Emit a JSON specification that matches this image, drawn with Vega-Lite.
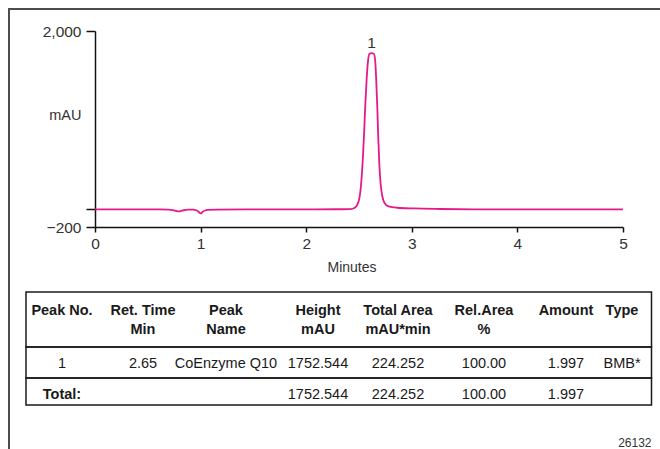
{
  "$schema": "https://vega.github.io/schema/vega-lite/v6.json",
  "width": 660,
  "height": 450,
  "autosize": {"type": "none"},
  "padding": {"left": 9, "top": 9, "right": 0, "bottom": 0},
  "background": "white",
  "config": {
    "view": {"stroke": "#4d4d4d", "strokeWidth": 2},
    "font": "Liberation Sans, Arial, sans-serif"
  },
  "datasets": {
    "trace": [
      {"t": 0.0, "v": -3}, {"t": 0.3, "v": -3}, {"t": 0.6, "v": -3}, {"t": 0.7, "v": -4},
      {"t": 0.74, "v": -10}, {"t": 0.77, "v": -20}, {"t": 0.79, "v": -25}, {"t": 0.81, "v": -22},
      {"t": 0.84, "v": -12}, {"t": 0.88, "v": -6}, {"t": 0.93, "v": -6}, {"t": 0.96, "v": -12},
      {"t": 0.98, "v": -28}, {"t": 1.0, "v": -48}, {"t": 1.02, "v": -30}, {"t": 1.04, "v": -15},
      {"t": 1.07, "v": -7}, {"t": 1.15, "v": -4}, {"t": 1.5, "v": -3}, {"t": 2.0, "v": -2},
      {"t": 2.3, "v": -1}, {"t": 2.42, "v": 0}, {"t": 2.46, "v": 15}, {"t": 2.496, "v": 87},
      {"t": 2.518, "v": 255}, {"t": 2.534, "v": 518}, {"t": 2.547, "v": 817}, {"t": 2.559, "v": 1153},
      {"t": 2.572, "v": 1453}, {"t": 2.585, "v": 1658}, {"t": 2.597, "v": 1741}, {"t": 2.619, "v": 1752},
      {"t": 2.642, "v": 1741}, {"t": 2.654, "v": 1658}, {"t": 2.663, "v": 1453}, {"t": 2.673, "v": 1153},
      {"t": 2.682, "v": 817}, {"t": 2.692, "v": 518}, {"t": 2.704, "v": 294}, {"t": 2.72, "v": 151},
      {"t": 2.742, "v": 69}, {"t": 2.78, "v": 31}, {"t": 2.86, "v": 16}, {"t": 3.02, "v": 8},
      {"t": 3.27, "v": 2}, {"t": 3.6, "v": -2}, {"t": 4.0, "v": -3}, {"t": 5.0, "v": -3}
    ],
    "peaks": [{"t": 2.619, "v": 1752, "label": "1"}],
    "rows": [
      {"r0": 0, "r1": 2, "c0": 0, "c1": 9},
      {"r0": 2, "r1": 4, "c0": 0, "c1": 9},
      {"r0": 4, "r1": 6, "c0": 0, "c1": 9}
    ],
    "cells": [
      {"col": 1, "row": 1, "kind": "head", "text": "Peak No."},
      {"col": 2, "row": 1, "kind": "head", "text": "Ret. Time\nMin"},
      {"col": 3, "row": 1, "kind": "head", "text": "Peak\nName"},
      {"col": 4, "row": 1, "kind": "head", "text": "Height\nmAU"},
      {"col": 5, "row": 1, "kind": "head", "text": "Total Area\nmAU*min"},
      {"col": 6, "row": 1, "kind": "head", "text": "Rel.Area\n%"},
      {"col": 7, "row": 1, "kind": "head", "text": "Amount"},
      {"col": 8, "row": 1, "kind": "head", "text": "Type"},
      {"col": 1, "row": 3, "kind": "body", "text": "1"},
      {"col": 2, "row": 3, "kind": "body", "text": "2.65"},
      {"col": 3, "row": 3, "kind": "body", "text": "CoEnzyme Q10"},
      {"col": 4, "row": 3, "kind": "body", "text": "1752.544"},
      {"col": 5, "row": 3, "kind": "body", "text": "224.252"},
      {"col": 6, "row": 3, "kind": "body", "text": "100.00"},
      {"col": 7, "row": 3, "kind": "body", "text": "1.997"},
      {"col": 8, "row": 3, "kind": "body", "text": "BMB*"},
      {"col": 1, "row": 5, "kind": "total", "text": "Total:"},
      {"col": 4, "row": 5, "kind": "body", "text": "1752.544"},
      {"col": 5, "row": 5, "kind": "body", "text": "224.252"},
      {"col": 6, "row": 5, "kind": "body", "text": "100.00"},
      {"col": 7, "row": 5, "kind": "body", "text": "1.997"},
      {"col": 9, "row": 7, "kind": "note", "text": "26132"}
    ]
  },
  "layer": [
    {
      "layer": [
        {
          "data": {"name": "trace"},
          "mark": {"type": "line", "color": "#e6198c", "strokeWidth": 1.8, "interpolate": "monotone", "clip": false},
          "encoding": {
            "x": {
              "field": "t", "type": "quantitative",
              "scale": {"domain": [0, 5], "range": [86, 614], "nice": false, "zero": false},
              "axis": {
                "values": [0, 1, 2, 3, 4, 5], "format": "d", "offset": -232, "grid": false, "labelFlush": false,
                "tickSize": 5, "tickWidth": 1.5, "tickColor": "#111",
                "domainColor": "#111", "domainWidth": 1.5,
                "labelFontSize": 15.5, "labelColor": "#333", "labelPadding": 4,
                "title": "Minutes", "titleFontSize": 14, "titleFontWeight": "normal", "titleColor": "#333",
                "titleX": 342.5, "titleY": 40, "titleAlign": "center", "titleBaseline": "middle"
              }
            },
            "y": {
              "field": "v", "type": "quantitative",
              "scale": {"domain": [-200, 2000], "range": [218, 22], "nice": false, "zero": false},
              "axis": {
                "values": [-200, 0, 2000], "format": ",.0f", "labelExpr": "datum.value === 0 ? '' : datum.label",
                "offset": -86, "grid": false, "labelFlush": false,
                "tickSize": 9, "tickWidth": 1.5, "tickColor": "#111",
                "domainColor": "#111", "domainWidth": 1.5,
                "labelFontSize": 15.5, "labelColor": "#333", "labelPadding": 5,
                "title": "mAU", "titleFontSize": 14.5, "titleFontWeight": "normal", "titleColor": "#333",
                "titleAngle": 0, "titleAlign": "right", "titleBaseline": "middle",
                "titleX": -14, "titleY": 106
              }
            }
          }
        },
        {
          "data": {"name": "peaks"},
          "mark": {"type": "text", "baseline": "bottom", "dy": -2, "fontSize": 15.5, "color": "#333", "clip": false},
          "encoding": {
            "x": {"field": "t", "type": "quantitative"},
            "y": {"field": "v", "type": "quantitative"},
            "text": {"field": "label"}
          }
        }
      ]
    },
    {
      "layer": [
        {
          "data": {"name": "rows"},
          "mark": {"type": "rect", "fill": null, "fillOpacity": 0, "stroke": "#1a1a1a", "strokeWidth": 1.5, "clip": false},
          "encoding": {
            "x": {"field": "c0", "type": "quantitative",
              "scale": {"domain": [0, 1, 2, 3, 4, 5, 6, 7, 8, 9], "range": [17, 53, 134, 217, 309, 389, 475, 557, 613, 642.5], "nice": false, "zero": false},
              "axis": null},
            "x2": {"field": "c1"},
            "y": {"field": "r0", "type": "quantitative",
              "scale": {"domain": [0, 1, 2, 3, 4, 5, 6, 7], "range": [283, 294.5, 338, 354.5, 369, 386, 396, 433.5], "nice": false, "zero": false},
              "axis": null},
            "y2": {"field": "r1"}
          }
        },
        {
          "data": {"name": "cells"},
          "transform": [{"filter": "datum.kind === 'head'"}],
          "mark": {"type": "text", "fontWeight": "bold", "fontSize": 14.5, "baseline": "top", "align": "center", "lineBreak": "\n", "lineHeight": 19, "color": "#1a1a1a", "clip": false},
          "encoding": {
            "x": {"field": "col", "type": "quantitative", "axis": null},
            "y": {"field": "row", "type": "quantitative", "axis": null},
            "text": {"field": "text"}
          }
        },
        {
          "data": {"name": "cells"},
          "transform": [{"filter": "datum.kind === 'body'"}],
          "mark": {"type": "text", "fontSize": 14.5, "baseline": "middle", "align": "center", "color": "#1a1a1a", "clip": false},
          "encoding": {
            "x": {"field": "col", "type": "quantitative", "axis": null},
            "y": {"field": "row", "type": "quantitative", "axis": null},
            "text": {"field": "text"}
          }
        },
        {
          "data": {"name": "cells"},
          "transform": [{"filter": "datum.kind === 'total'"}],
          "mark": {"type": "text", "fontSize": 14.5, "fontWeight": "bold", "baseline": "middle", "align": "center", "color": "#1a1a1a", "clip": false},
          "encoding": {
            "x": {"field": "col", "type": "quantitative", "axis": null},
            "y": {"field": "row", "type": "quantitative", "axis": null},
            "text": {"field": "text"}
          }
        },
        {
          "data": {"name": "cells"},
          "transform": [{"filter": "datum.kind === 'note'"}],
          "mark": {"type": "text", "fontSize": 12, "baseline": "middle", "align": "right", "color": "#333", "clip": false},
          "encoding": {
            "x": {"field": "col", "type": "quantitative", "axis": null},
            "y": {"field": "row", "type": "quantitative", "axis": null},
            "text": {"field": "text"}
          }
        }
      ]
    }
  ],
  "resolve": {"scale": {"x": "independent", "y": "independent"}}
}
